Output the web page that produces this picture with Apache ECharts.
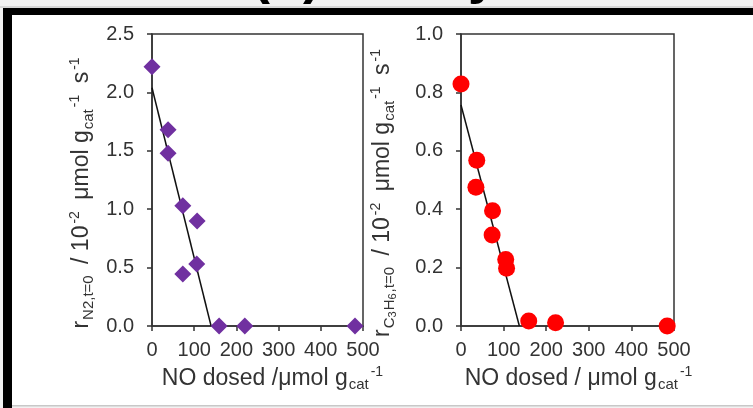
<!DOCTYPE html>
<html>
<head>
<meta charset="utf-8">
<script src="https://cdn.jsdelivr.net/npm/echarts@6/dist/echarts.min.js"></script>
<style>
  html, body { margin: 0; padding: 0; background: #f2f2f2; }
  #chart { width: 753px; height: 408px; }
</style>
</head>
<body>
<div id="chart"></div>
<script>
// left panel: N2 rate vs NO dosed
const no_n2 = [0, 38, 38, 73, 107, 73, 106, 159, 220, 481]
const rate_n2 = [2.22, 1.68, 1.48, 1.03, 0.90, 0.445, 0.53, 0, 0, 0]
const fit_n2_x = [0, 140]
const fit_n2_y = [2.04, 0]

// right panel: C3H6 rate vs NO dosed
const no_c3 = [0, 37, 35, 74, 73, 105, 107, 159, 222, 484]
const rate_c3 = [0.829, 0.568, 0.475, 0.395, 0.312, 0.228, 0.198, 0.017, 0.011, 0]
const fit_c3_x = [0, 137]
const fit_c3_y = [0.757, 0]

const pairs = (xs, ys) => xs.map((x, i) => [x, ys[i]])

const FONT = 'Liberation Sans'
const INK = '#333'
const tickFont = { fontFamily: FONT, fontSize: 20, color: INK }

function richFor(startPad, endPad, size) {
  return {
    a: { fontFamily: FONT, fontSize: size, color: INK, padding: [0, 0, 0, startPad] },
    n: { fontFamily: FONT, fontSize: size, color: INK },
    p: { fontFamily: FONT, fontSize: size, color: INK, padding: [0, 0, 0, 5] },
    sub: { fontFamily: FONT, fontSize: 15, color: INK, padding: [13, 0, 0, 1] },
    ssub: { fontFamily: FONT, fontSize: 11, color: INK, padding: [19, 0, 0, 0] },
    sup: { fontFamily: FONT, fontSize: 14, color: INK, padding: [0, 0, 13, 2] },
    z: { fontFamily: FONT, fontSize: 14, color: INK, padding: [0, endPad, 13, 2] }
  }
}
const axisLine = { lineStyle: { color: INK, width: 1.5 } }
const tick = { length: 5, lineStyle: { color: INK, width: 1.5 } }

function xAxisOf(idx, name, startPad) {
  return {
    type: 'value', gridIndex: idx, min: 0, max: 500, interval: 100,
    axisLine: axisLine,
    axisTick: tick,
    axisLabel: Object.assign({ margin: 14 }, tickFont),
    splitLine: { show: false },
    name: name, nameLocation: 'middle', nameGap: 34,
    nameTextStyle: { rich: richFor(startPad, 0, 23) }
  }
}
function yAxisOf(idx, max, interval, name, gap) {
  return {
    type: 'value', gridIndex: idx, min: 0, max: max, interval: interval,
    axisLine: Object.assign({ show: true }, axisLine),
    axisTick: Object.assign({ show: true }, tick),
    axisLabel: Object.assign({ margin: 18, formatter: v => v.toFixed(1) }, tickFont),
    splitLine: { show: false },
    name: name, nameLocation: 'middle', nameRotate: 90, nameGap: gap,
    nameTextStyle: { rich: richFor(0, 26, 23) }
  }
}

const chart = echarts.init(document.getElementById('chart'))
chart.setOption({
  backgroundColor: '#f2f2f2',
  animation: false,
  graphic: [
    { type: 'rect', shape: { x: 12, y: 15, width: 741, height: 390 }, style: { fill: '#fff' }, z: -10 },
    { type: 'text', style: { text: '(b) Catalyst', x: 252, y: 5, verticalAlign: 'bottom',
        font: 'bold 54px "Liberation Sans"', fill: '#000' }, z: 1 },
    { type: 'rect', shape: { x: 0, y: 6.5, width: 753, height: 1 }, style: { fill: '#bbb' }, z: 2 },
    { type: 'rect', shape: { x: 3, y: 8, width: 750, height: 7 }, style: { fill: '#000' }, z: 3 },
    { type: 'rect', shape: { x: 3, y: 8, width: 9, height: 400 }, style: { fill: '#000' }, z: 3 },
    { type: 'rect', shape: { x: 12, y: 405, width: 741, height: 1.5 }, style: { fill: '#c8c8c8' }, z: 3 }
  ],
  grid: [
    { left: 152, top: 34, width: 211, height: 292, show: true, borderColor: INK, borderWidth: 1.5, backgroundColor: 'transparent' },
    { left: 461, top: 34, width: 213, height: 292, show: true, borderColor: INK, borderWidth: 1.5, backgroundColor: 'transparent' }
  ],
  xAxis: [
    xAxisOf(0, '{a|NO dosed /μmol g}{sub|cat}{sup|-1}', 30),
    xAxisOf(1, '{a|NO dosed / μmol g}{sub|cat}{sup|-1}', 22)
  ],
  yAxis: [
    yAxisOf(0, 2.5, 0.5, '{n|r}{sub|N2,t=0}{p| / 10}{sup|-2}{p| μmol g}{sub|cat}{sup|-1}{p| s}{z|-1}', 56),
    yAxisOf(1, 1.0, 0.2, '{n|r}{sub|C}{ssub|3}{sub|H}{ssub|6}{sub|,t=0}{p| / 10}{sup|-2}{p| μmol g}{sub|cat}{sup|-1}{p| s}{z|-1}', 63)
  ],
  series: [
    { type: 'line', xAxisIndex: 0, yAxisIndex: 0, data: pairs(fit_n2_x, fit_n2_y),
      showSymbol: false, lineStyle: { color: '#111', width: 1.5 }, z: 1 },
    { type: 'scatter', xAxisIndex: 0, yAxisIndex: 0, data: pairs(no_n2, rate_n2),
      symbol: 'diamond', symbolSize: 17, itemStyle: { color: '#7030a0', opacity: 1 }, z: 2 },
    { type: 'line', xAxisIndex: 1, yAxisIndex: 1, data: pairs(fit_c3_x, fit_c3_y),
      showSymbol: false, lineStyle: { color: '#111', width: 1.5 }, z: 1 },
    { type: 'scatter', xAxisIndex: 1, yAxisIndex: 1, data: pairs(no_c3, rate_c3),
      symbol: 'circle', symbolSize: 17, itemStyle: { color: '#ff0000', opacity: 1 }, z: 2 }
  ]
})
</script>
</body>
</html>
